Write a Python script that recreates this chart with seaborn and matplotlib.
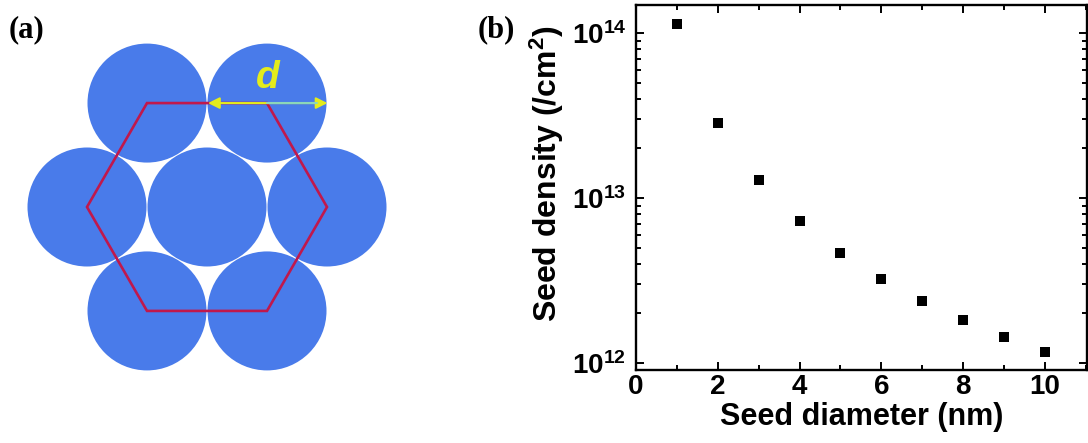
import numpy as np
import matplotlib
matplotlib.use('Agg')
import matplotlib.pyplot as plt
from matplotlib.patches import Circle, Polygon
import matplotlib.ticker as mticker
import pandas as pd
import seaborn as sns

# ---- data (panel b) ----
diameter_nm = [1, 2, 3, 4, 5, 6, 7, 8, 9, 10]
seed_density = [1.13e14, 2.86e13, 1.28e13, 7.25e12, 4.63e12,
                3.22e12, 2.37e12, 1.82e12, 1.43e12, 1.17e12]
x_ticks = [0, 2, 4, 6, 8, 10]
y_ticks = [1e12, 1e13, 1e14]
x_label = "Seed diameter (nm)"
y_label = r"Seed density (/cm$^{\mathbf{2}}$)"

# ---- schematic (panel a), in pixel units ----
lattice_spacing = 120.0
circle_radius = 59.5
center_xy = (207.0, 207.0)
ring_angles_deg = [0, 60, 120, 180, 240, 300]

sns.set_style('ticks')
plt.rcParams['font.family'] = ['Liberation Sans', 'DejaVu Sans']
plt.rcParams['font.weight'] = 'bold'
plt.rcParams['mathtext.fontset'] = 'custom'
plt.rcParams['mathtext.rm'] = 'Liberation Sans:bold'
plt.rcParams['mathtext.bf'] = 'Liberation Sans:bold'
plt.rcParams['mathtext.it'] = 'Liberation Sans:bold:italic'
for key in ['text.color', 'axes.labelcolor', 'xtick.color', 'ytick.color', 'axes.edgecolor']:
    plt.rcParams[key] = 'black'

fig = plt.figure(figsize=(10.88, 4.43), dpi=100)

# ---------------- panel (a) ----------------
axa = fig.add_axes([0, 0, 480 / 1088, 1])
axa.set_xlim(0, 480)
axa.set_ylim(443, 0)
axa.axis('off')

blue = '#497BEA'
ring = [(center_xy[0] + lattice_spacing * np.cos(np.radians(a)),
         center_xy[1] + lattice_spacing * np.sin(np.radians(a))) for a in ring_angles_deg]
for (cx, cy) in [center_xy] + ring:
    axa.add_patch(Circle((cx, cy), circle_radius, facecolor=blue, edgecolor='none', zorder=1))

axa.add_patch(Polygon(ring, closed=True, fill=False, edgecolor='#C0184C', lw=1.9, zorder=3))

# arrow d
ay = ring[4][1]
axa.annotate('', xy=(center_xy[0] + 1, ay), xytext=(ring[5][0] + circle_radius + 1, ay),
             arrowprops=dict(arrowstyle='<|-|>', color='#E4EC1C', lw=1.5, mutation_scale=17,
                             shrinkA=0, shrinkB=0), zorder=4)
axa.plot([ring[5][0], ring[5][0] + circle_radius - 10], [ay, ay], color='#8CD6B8', lw=1.5, zorder=5)
axa.text(268, 78, 'd', color='#E4EC1C', fontsize=28, fontweight='bold', fontstyle='italic',
         ha='center', va='center', zorder=6)

fig.text(9 / 1088, 1 - 30 / 443, '(a)', family='Liberation Serif', fontsize=22,
         fontweight='bold', ha='left', va='center')
fig.text(478 / 1088, 1 - 30 / 443, '(b)', family='Liberation Serif', fontsize=22,
         fontweight='bold', ha='left', va='center')

# ---------------- panel (b) ----------------
df = pd.DataFrame({'diameter': diameter_nm, 'density': seed_density})
axb = fig.add_axes([636 / 1088, 1 - 370 / 443, 451 / 1088, 365 / 443])
sns.scatterplot(data=df, x='diameter', y='density', marker='s', s=42, color='black',
                edgecolor='black', linewidth=0, ax=axb, zorder=3)
axb.set_yscale('log')
axb.set_xlim(0, 11.03)
axb.set_ylim(10 ** 11.958, 10 ** 14.17)

axb.set_xticks(x_ticks)
axb.xaxis.set_minor_locator(mticker.MultipleLocator(1))
axb.set_yticks(y_ticks)
axb.yaxis.set_minor_locator(mticker.LogLocator(base=10, subs=np.arange(2, 10)))
axb.yaxis.set_minor_formatter(mticker.NullFormatter())
axb.yaxis.set_major_formatter(mticker.FuncFormatter(
    lambda v, _: r'$\mathbf{10^{%d}}$' % int(round(np.log10(v)))))

for sp in axb.spines.values():
    sp.set_linewidth(1.7)
    sp.set_visible(True)
    sp.set_color('black')
axb.tick_params(which='both', direction='in', top=True, right=True,
                labeltop=False, labelright=False, width=1.4, colors='black')
axb.tick_params(which='major', length=6, labelsize=20)
axb.tick_params(which='minor', length=3.5)
axb.tick_params(axis='x', which='major', pad=3)
axb.tick_params(axis='y', which='major', pad=7)

axb.set_xlabel(x_label, fontsize=22, fontweight='bold', labelpad=1, color='black')
axb.set_ylabel(y_label, fontsize=23, fontweight='bold', color='black')
axb.yaxis.set_label_coords(-0.155, 0.537)

fig.savefig('out.png', dpi=100)
